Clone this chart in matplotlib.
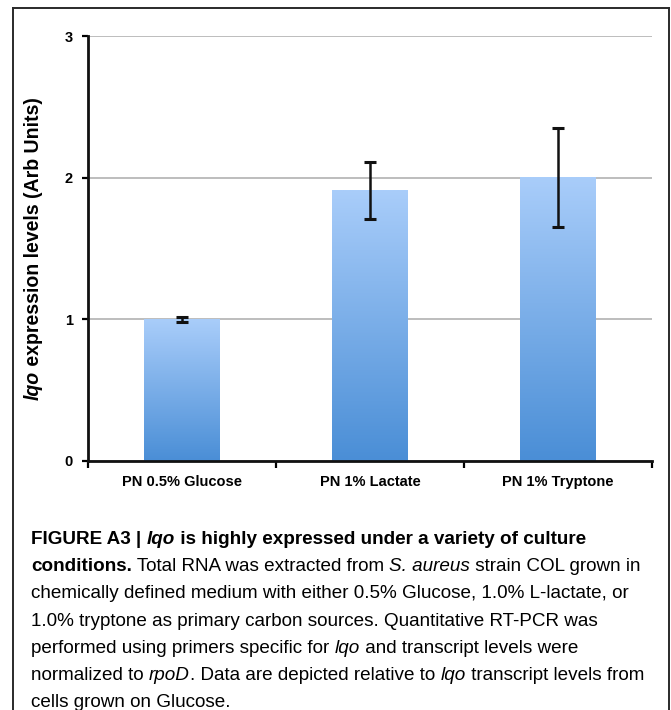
import matplotlib
matplotlib.use("Agg")
import matplotlib.pyplot as plt
import numpy as np
from matplotlib import font_manager
from matplotlib.colors import LinearSegmentedColormap
from matplotlib.lines import Line2D

# ---- data ----
categories = ["PN 0.5% Glucose", "PN 1% Lactate", "PN 1% Tryptone"]
expression = [1.0, 1.91, 2.0]
errors = [0.02, 0.20, 0.35]
y_ticks = [0, 1, 2, 3]

caption_lines = [
    [("FIGURE A3 | ", "bold", "normal"), ("lqo", "bold", "italic"),
     (" is highly expressed under a variety of culture", "bold", "normal")],
    [("conditions.", "bold", "normal"), (" Total RNA was extracted from ", "normal", "normal"),
     ("S. aureus", "normal", "italic"), (" strain COL grown in", "normal", "normal")],
    [("chemically defined medium with either 0.5% Glucose, 1.0% L-lactate, or", "normal", "normal")],
    [("1.0% tryptone as primary carbon sources. Quantitative RT-PCR was", "normal", "normal")],
    [("performed using primers specific for ", "normal", "normal"), ("lqo", "normal", "italic"),
     (" and transcript levels were", "normal", "normal")],
    [("normalized to ", "normal", "normal"), ("rpoD", "normal", "italic"),
     (". Data are depicted relative to ", "normal", "normal"), ("lqo", "normal", "italic"),
     (" transcript levels from", "normal", "normal")],
    [("cells grown on Glucose.", "normal", "normal")],
]

installed = {f.name for f in font_manager.fontManager.ttflist}
cap_font = "Liberation Sans Narrow" if "Liberation Sans Narrow" in installed else "Liberation Sans"
plot_font = "Liberation Sans"

W, H = 671, 710
fig = plt.figure(figsize=(W / 100, H / 100), dpi=100)

# figure frame (left, top, right edges)
frame_col = "#2a2a2a"
fig.add_artist(Line2D([13 / W, 13 / W], [0, 1 - 8 / H], transform=fig.transFigure, color=frame_col, lw=1.4))
fig.add_artist(Line2D([13 / W, 669 / W], [1 - 8 / H, 1 - 8 / H], transform=fig.transFigure, color=frame_col, lw=1.4))
fig.add_artist(Line2D([669 / W, 669 / W], [0, 1 - 8 / H], transform=fig.transFigure, color=frame_col, lw=1.4))

ax_l, ax_r, ax_t, ax_b = 88, 652, 36, 461
ax = fig.add_axes([ax_l / W, 1 - ax_b / H, (ax_r - ax_l) / W, (ax_b - ax_t) / H])

x = np.arange(len(categories))
bar_w = 0.4
ax.set_xlim(-0.5, len(categories) - 0.5)
ax.set_ylim(0, 3)

bars = ax.bar(x, expression, width=bar_w, color="none", edgecolor="none", zorder=2)
cmap = LinearSegmentedColormap.from_list("barfill", ["#4a8ed6", "#a9cdfa"])
grad = np.linspace(0, 1, 256).reshape(-1, 1)
for b in bars:
    x0, y0 = b.get_x(), b.get_y()
    ax.imshow(grad, cmap=cmap, origin="lower", aspect="auto",
              extent=(x0, x0 + b.get_width(), y0, y0 + b.get_height()), zorder=2)

ax.errorbar(x, expression, yerr=errors, fmt="none", ecolor="#111111", elinewidth=1.8,
            capsize=4, capthick=2.2, zorder=4)

ax.set_yticks(y_ticks)
ax.set_yticklabels([str(t) for t in y_ticks], fontfamily=plot_font, fontweight="bold", fontsize=10.5)
ax.yaxis.grid(True, color="#bdbdbd", lw=1.4, zorder=0)
ax.set_axisbelow(True)
ax.set_xticks(x)
ax.set_xticklabels(categories, fontfamily=plot_font, fontweight="bold", fontsize=10.5)
ax.tick_params(axis="x", length=0, pad=10)
ax.tick_params(axis="y", length=4, width=1.6, pad=7, direction="out")
ax.set_xticks(np.arange(-0.5, len(categories)), minor=True)
ax.tick_params(axis="x", which="minor", length=5, width=1.6, direction="out")
for s in ["top", "right"]:
    ax.spines[s].set_visible(False)
for s in ["left", "bottom"]:
    ax.spines[s].set_linewidth(2.0)
    ax.spines[s].set_color("#111111")

fig.canvas.draw()
renderer = fig.canvas.get_renderer()


def advance(txt, **kw):
    """Horizontal advance of a run in pixels (keeps trailing spaces)."""
    t1 = fig.text(0, 0, txt + "|", **kw)
    t2 = fig.text(0, 0, "|", **kw)
    w = t1.get_window_extent(renderer).width - t2.get_window_extent(renderer).width
    t1.remove(); t2.remove()
    return w


def draw_runs(runs, x_px, y_px, size, family, rotation=0):
    pos = 0.0
    for txt, weight, style in runs:
        kw = dict(fontsize=size, fontfamily=family, fontweight=weight, fontstyle=style)
        if rotation == 0:
            fig.text((x_px + pos) / W, 1 - y_px / H, txt, ha="left", va="baseline", **kw)
        else:
            fig.text(x_px / W, 1 - (y_px - pos) / H, txt, ha="left", va="baseline",
                     rotation=90, rotation_mode="anchor", **kw)
        pos += advance(txt, **kw)
    return pos


def run_length(runs, size, family):
    return sum(advance(t, fontsize=size, fontfamily=family, fontweight=w, fontstyle=s)
               for t, w, s in runs)


# y-axis label: rotated, centred on axes
ylab_runs = [("lqo", "bold", "italic"), (" expression levels (Arb Units)", "bold", "normal")]
ylab_size = 11 * 305 / run_length(ylab_runs, 11, plot_font)
total = run_length(ylab_runs, ylab_size, plot_font)
yc = (ax_t + ax_b) / 2
draw_runs(ylab_runs, 39, yc + total / 2, ylab_size, plot_font, rotation=90)

# caption
ref_w = advance(caption_lines[2][0][0], fontsize=11, fontfamily=cap_font)
cap_size = 11 * 597 / ref_w
baseline0 = 544
for i, line in enumerate(caption_lines):
    draw_runs(line, 31, baseline0 + i * 27.2, cap_size, cap_font)

fig.savefig("out.png", dpi=100)
